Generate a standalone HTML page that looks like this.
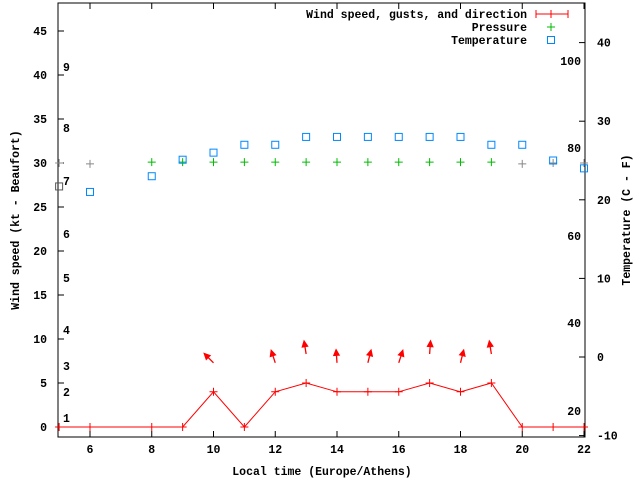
<!DOCTYPE html>
<html><head><meta charset="utf-8"><style>
html,body{margin:0;padding:0;background:#fff;width:640px;height:480px;overflow:hidden}
svg text{font-family:"Liberation Mono",monospace;font-weight:bold;font-size:11.5px;fill:#000}
</style></head><body>
<svg id="chart" width="640" height="480" xmlns="http://www.w3.org/2000/svg">
<g id="g"></g>
</svg>
<script>
const windHours=[5,6,8,9,10,11,12,13,14,15,16,17,18,19,20,21,22];
const windSpeed=[0,0,0,0,4,0,4,5,4,4,4,5,4,5,0,0,0];
const arrowHours=[10,12,13,14,15,16,17,18,19];
const arrowSpeed=[4,4,5,4,4,4,5,4,5];
const arrowDir=[-45,-18,-9,-4,14,18,4,14,-9];
const pressHours=[5,6,8,9,10,11,12,13,14,15,16,17,18,19,20,21,22];
const pressVals=[30.0,29.9,30.1,30.1,30.1,30.1,30.1,30.1,30.1,30.1,30.1,30.1,30.1,30.1,29.9,30.0,30.0];
const tempHours=[5,6,8,9,10,11,12,13,14,15,16,17,18,19,20,21,22];
const tempVals=[21.7,21.0,23.0,25.1,26,27,27,28,28,28,28,28,28,27,27,25,24];
const xTicks=[6,8,10,12,14,16,18,20,22];
const yTicks=[0,5,10,15,20,25,30,35,40,45];
const y2Ticks=[-10,0,10,20,30,40];
const beaufort=[[1,418],[2,392],[3,366],[4,330],[5,278],[6,234],[7,181],[8,128],[9,67]];
const fahr=[[100,61],[80,148],[60,236],[40,323],[20,411]];

const L=58,R=585,T=3,B=437;
const X=h=>90+(h-6)*(584-90)/16;
const Y=v=>427-v*8.8;
const Y2=c=>357-c*7.86;
const g=document.getElementById('g');
const NS='http://www.w3.org/2000/svg';
function mk(tag,attrs,txt){const e=document.createElementNS(NS,tag);for(const k in attrs)e.setAttribute(k,attrs[k]);if(txt!==undefined)e.textContent=txt;g.appendChild(e);return e;}

let e=mk('rect',{x:L,y:T,width:R-L,height:B-T,fill:'none',stroke:'#000','stroke-width':1});


xTicks.forEach(h=>{
  let t=mk('line',{x1:X(h),x2:X(h),y1:B,y2:B-6,stroke:'#000'});
  
  
  mk('line',{x1:X(h),x2:X(h),y1:T,y2:T+6,stroke:'#000'});
  let l=mk('text',{x:X(h),y:B+16,'text-anchor':'middle'},String(h));
  
  
});
yTicks.forEach(v=>{
  mk('line',{x1:L,x2:L+6,y1:Y(v),y2:Y(v),stroke:'#000'});
  let l=mk('text',{x:47,y:Y(v)+4,'text-anchor':'end'},String(v));
  
  
});
y2Ticks.forEach(v=>{
  mk('line',{x1:R,x2:R-6,y1:Y2(v),y2:Y2(v),stroke:'#000'});
  let l=mk('text',{x:597,y:Y2(v)+4},String(v));
  
  
});
beaufort.forEach(b=>{
  let l=mk('text',{x:63,y:b[1]+4},String(b[0]));
  
  
});
fahr.forEach(f=>{
  let l=mk('text',{x:581,y:f[1]+4,'text-anchor':'end'},String(f[0]));
  
  
});
e=mk('text',{x:322,y:475,'text-anchor':'middle'},'Local time (Europe/Athens)');


e=mk('text',{x:0,y:0,'text-anchor':'middle',transform:'translate(19,220) rotate(-90)'},'Wind speed (kt - Beaufort)');


e=mk('text',{x:0,y:0,'text-anchor':'middle',transform:'translate(630,220) rotate(-90)'},'Temperature (C - F)');



// wind line
e=mk('polyline',{points:windHours.map((h,i)=>X(h)+','+Y(windSpeed[i])).join(' '),fill:'none',stroke:'#f00','stroke-width':1});


windHours.forEach((h,i)=>{
  const x=X(h),y=Y(windSpeed[i]);
  let p=mk('path',{d:`M${x-4},${y}H${x+4}M${x},${y-4}V${y+4}`,stroke:'#f00'});
  
  
});
arrowHours.forEach((h,i)=>{
  const x=X(h),y=Y(arrowSpeed[i])-29,a=arrowDir[i]*Math.PI/180,len=13;
  const hx=x+Math.sin(a)*len,hy=y-Math.cos(a)*len;
  const b1=a+Math.PI-0.45,b2=a+Math.PI+0.45;
  let ar=mk('path',{d:`M${x},${y}L${hx},${hy}M${hx+Math.sin(b1)*6},${hy-Math.cos(b1)*6}L${hx},${hy}L${hx+Math.sin(b2)*6},${hy-Math.cos(b2)*6}Z`,stroke:'#f00',fill:'#f00','stroke-width':1.3});
  
  
});
pressHours.forEach((h,i)=>{
  const x=X(h),y=Y(pressVals[i]);
  const c=(pressVals[i]>=30.05)?'#0b0':'#888';
  let p=mk('path',{d:`M${x-4},${y}H${x+4}M${x},${y-4}V${y+4}`,stroke:c});
  
  
});
tempHours.forEach((h,i)=>{
  const x=X(h),y=Y2(tempVals[i]);
  let r=mk('rect',{x:x-3.5,y:y-3.5,width:7,height:7,fill:'none',stroke:(h===5?'#555':'#08f'),'stroke-width':1});
  
  
});
// legend
const leg=[['Wind speed, gusts, and direction',14],['Pressure',27],['Temperature',40]];
leg.forEach((l,i)=>{
  let t=mk('text',{x:527,y:l[1]+4,'text-anchor':'end'},l[0]);
  
  
});
e=mk('path',{d:'M536,14H568M536,10V18M568,10V18M551,10V18',stroke:'#f00'});


e=mk('path',{d:'M547,27H555M551,23V31',stroke:'#0b0'});


e=mk('rect',{x:547.5,y:36.5,width:7,height:7,fill:'none',stroke:'#08f'});


</script>
</body></html>
